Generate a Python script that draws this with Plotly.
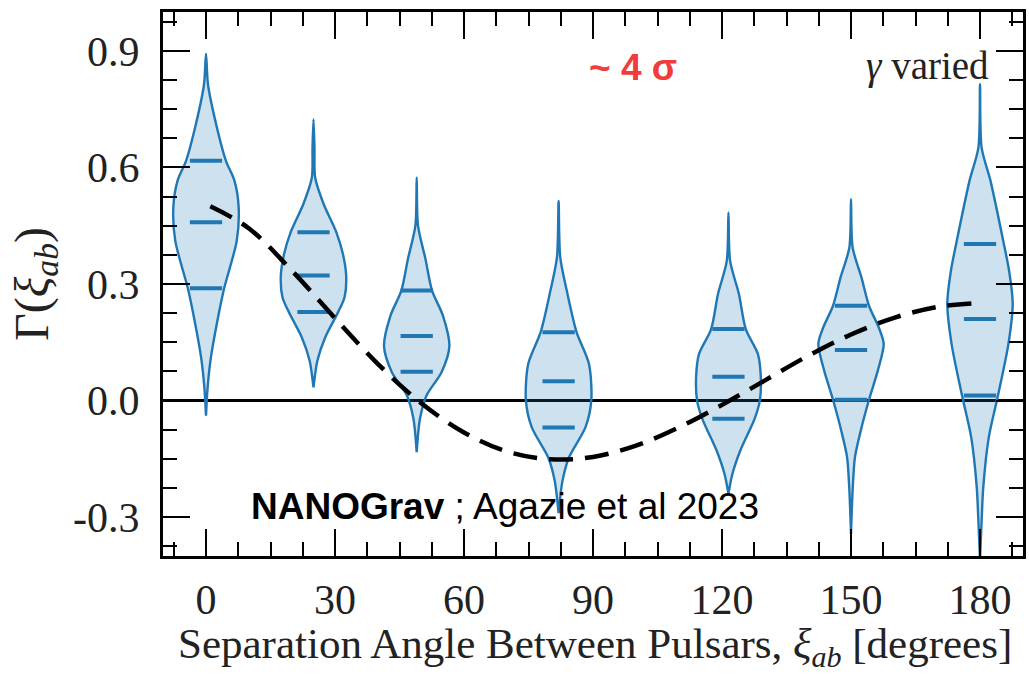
import plotly.graph_objects as go

# ---------------- data ----------------
positions = [0, 25, 49, 82, 121.5, 150, 180]          # bin centres (degrees)
half_width = 7.6                                      # max half-width of a violin (degrees)

# violin outlines: y values (top -> bottom) and relative half-widths
v0_y = [0.893, 0.814, 0.711, 0.617, 0.566, 0.497, 0.411, 0.287, 0.197, 0.111, 0.034, -0.039]
v0_w = [0.0, 0.06, 0.31, 0.61, 0.87, 1.0, 0.94, 0.55, 0.33, 0.15, 0.05, 0.0]
v1_y = [0.724, 0.650, 0.574, 0.506, 0.433, 0.377, 0.321, 0.266, 0.227, 0.163, 0.103, 0.034]
v1_w = [0.0, 0.03, 0.05, 0.31, 0.70, 0.90, 1.0, 0.95, 0.75, 0.36, 0.12, 0.0]
v2_y = [0.574, 0.450, 0.364, 0.283, 0.219, 0.140, 0.073, 0.013, -0.047, -0.133]
v2_w = [0.0, 0.04, 0.27, 0.47, 0.80, 1.0, 0.76, 0.30, 0.10, 0.0]
v3_y = [0.514, 0.369, 0.283, 0.176, 0.094, 0.0, -0.069, -0.146, -0.206, -0.29]
v3_w = [0.0, 0.05, 0.25, 0.55, 0.93, 1.0, 0.82, 0.32, 0.12, 0.0]
v4_y = [0.484, 0.360, 0.274, 0.184, 0.120, 0.060, 0.0, -0.047, -0.129, -0.189, -0.240]
v4_w = [0.0, 0.05, 0.32, 0.53, 0.90, 0.99, 0.96, 0.80, 0.36, 0.12, 0.0]
v5_y = [0.519, 0.394, 0.317, 0.244, 0.188, 0.146, 0.077, 0.002, -0.077, -0.146, -0.231, -0.343]
v5_w = [0.0, 0.05, 0.32, 0.55, 0.85, 1.0, 0.82, 0.55, 0.30, 0.12, 0.05, 0.0]
v6_y = [0.814, 0.651, 0.566, 0.403, 0.334, 0.249, 0.146, 0.013, -0.094, -0.223, -0.309, -0.41]
v6_w = [0.0, 0.05, 0.32, 0.73, 0.89, 1.0, 0.87, 0.55, 0.27, 0.10, 0.05, 0.0]

# quantile bars
q_hi = [0.617, 0.433, 0.283, 0.176, 0.184, 0.244, 0.403]
q_mid = [0.459, 0.322, 0.166, 0.050, 0.061, 0.130, 0.210]
q_lo = [0.289, 0.228, 0.074, -0.069, -0.047, 0.002, 0.013]

# Hellings-Downs curve
hd_x = [1, 10, 20, 30, 40, 50, 60, 70, 80, 90, 100, 110, 120, 130, 140, 150, 160, 170, 178]
hd_y = [0.500, 0.443, 0.334, 0.212, 0.094, -0.006, -0.082, -0.131, -0.151, -0.145, -0.116,
        -0.069, -0.011, 0.052, 0.115, 0.170, 0.213, 0.241, 0.250]

x_ticks = [0, 30, 60, 90, 120, 150, 180]
y_ticks = [-0.3, 0.0, 0.3, 0.6, 0.9]
y_ticktext = ["-0.3", "0.0", "0.3", "0.6", "0.9"]

violins_y = [v0_y, v1_y, v2_y, v3_y, v4_y, v5_y, v6_y]
violins_w = [v0_w, v1_w, v2_w, v3_w, v4_w, v5_w, v6_w]

BLUE = "#1f77b4"
FILL = "rgba(31,119,180,0.22)"
SERIF = "Liberation Serif, Times New Roman, serif"
SANS = "Liberation Sans, Arial, sans-serif"

fig = go.Figure()

for pos, ys, ws in zip(positions, violins_y, violins_w):
    xs = [pos + w * half_width for w in ws] + [pos - w * half_width for w in reversed(ws)]
    yy = list(ys) + list(reversed(ys))
    fig.add_trace(go.Scatter(
        x=xs, y=yy, mode="lines", fill="toself", fillcolor=FILL,
        line=dict(color=BLUE, width=2.4, shape="spline", smoothing=0.8),
        hoverinfo="skip", showlegend=False))

bar_half = 3.75
bx, by = [], []
for pos, a, b, c in zip(positions, q_hi, q_mid, q_lo):
    for q in (a, b, c):
        bx += [pos - bar_half, pos + bar_half, None]
        by += [q, q, None]
fig.add_trace(go.Scatter(x=bx, y=by, mode="lines", line=dict(color=BLUE, width=4),
                         hoverinfo="skip", showlegend=False))

fig.add_trace(go.Scatter(x=hd_x, y=hd_y, mode="lines",
                         line=dict(color="black", width=4.5, dash="24px,12px", shape="spline"),
                         hoverinfo="skip", showlegend=False))

fig.add_annotation(x=99.3, y=0.856, xref="x", yref="y", text="<b>~ 4 σ</b>", showarrow=False,
                   font=dict(family=SANS, size=37, color="#f23c3c"), xanchor="center", yanchor="middle")
fig.add_annotation(x=182.6, y=0.862, xref="x", yref="y", text="<i>γ</i> varied", showarrow=False,
                   font=dict(family=SERIF, size=39, color="#222"), xanchor="right", yanchor="middle")
fig.add_annotation(x=10.0, y=-0.273, xref="x", yref="y",
                   text="<b>NANOGrav</b> ; Agazie et al 2023", showarrow=False,
                   font=dict(family=SANS, size=37, color="black"), xanchor="left", yanchor="middle")
# x-axis title
fig.add_annotation(x=0.502, y=-0.168, xref="paper", yref="paper",
                   text="Separation Angle Between Pulsars, <i>ξ</i><sub><i>ab</i></sub> [degrees]",
                   showarrow=False, font=dict(family=SERIF, size=43, color="#222"),
                   xanchor="center", yanchor="middle")

axis_common = dict(showline=True, linecolor="black", linewidth=3, mirror="allticks",
                   ticks="inside", ticklen=27, tickwidth=2, tickcolor="black",
                   showgrid=False, tickfont=dict(family=SERIF, size=42, color="#222"),
                   automargin=False)

fig.update_layout(
    width=1029, height=675,
    margin=dict(l=163, r=6, t=12, b=119, autoexpand=False),
    paper_bgcolor="white", plot_bgcolor="white",
    xaxis=dict(range=[-10, 190], tickmode="array", tickvals=x_ticks, zeroline=False,
               ticklabelstandoff=5,
               minor=dict(tick0=0, dtick=7.5, ticks="inside", ticklen=14, tickwidth=2,
                          tickcolor="black", showgrid=False),
               **axis_common),
    yaxis=dict(range=[-0.4, 1.0], tickmode="array", tickvals=y_ticks, ticktext=y_ticktext,
               zeroline=True, zerolinecolor="black", zerolinewidth=2.5,
               ticklabelstandoff=12,
               minor=dict(tick0=0, dtick=0.075, ticks="inside", ticklen=14, tickwidth=2,
                          tickcolor="black", showgrid=False),
               title=dict(text="Γ(<i>ξ</i><sub><i>ab</i></sub>)",
                          font=dict(family=SERIF, size=48, color="#222"), standoff=10),
               **axis_common),
)

fig.write_html("out.html")
